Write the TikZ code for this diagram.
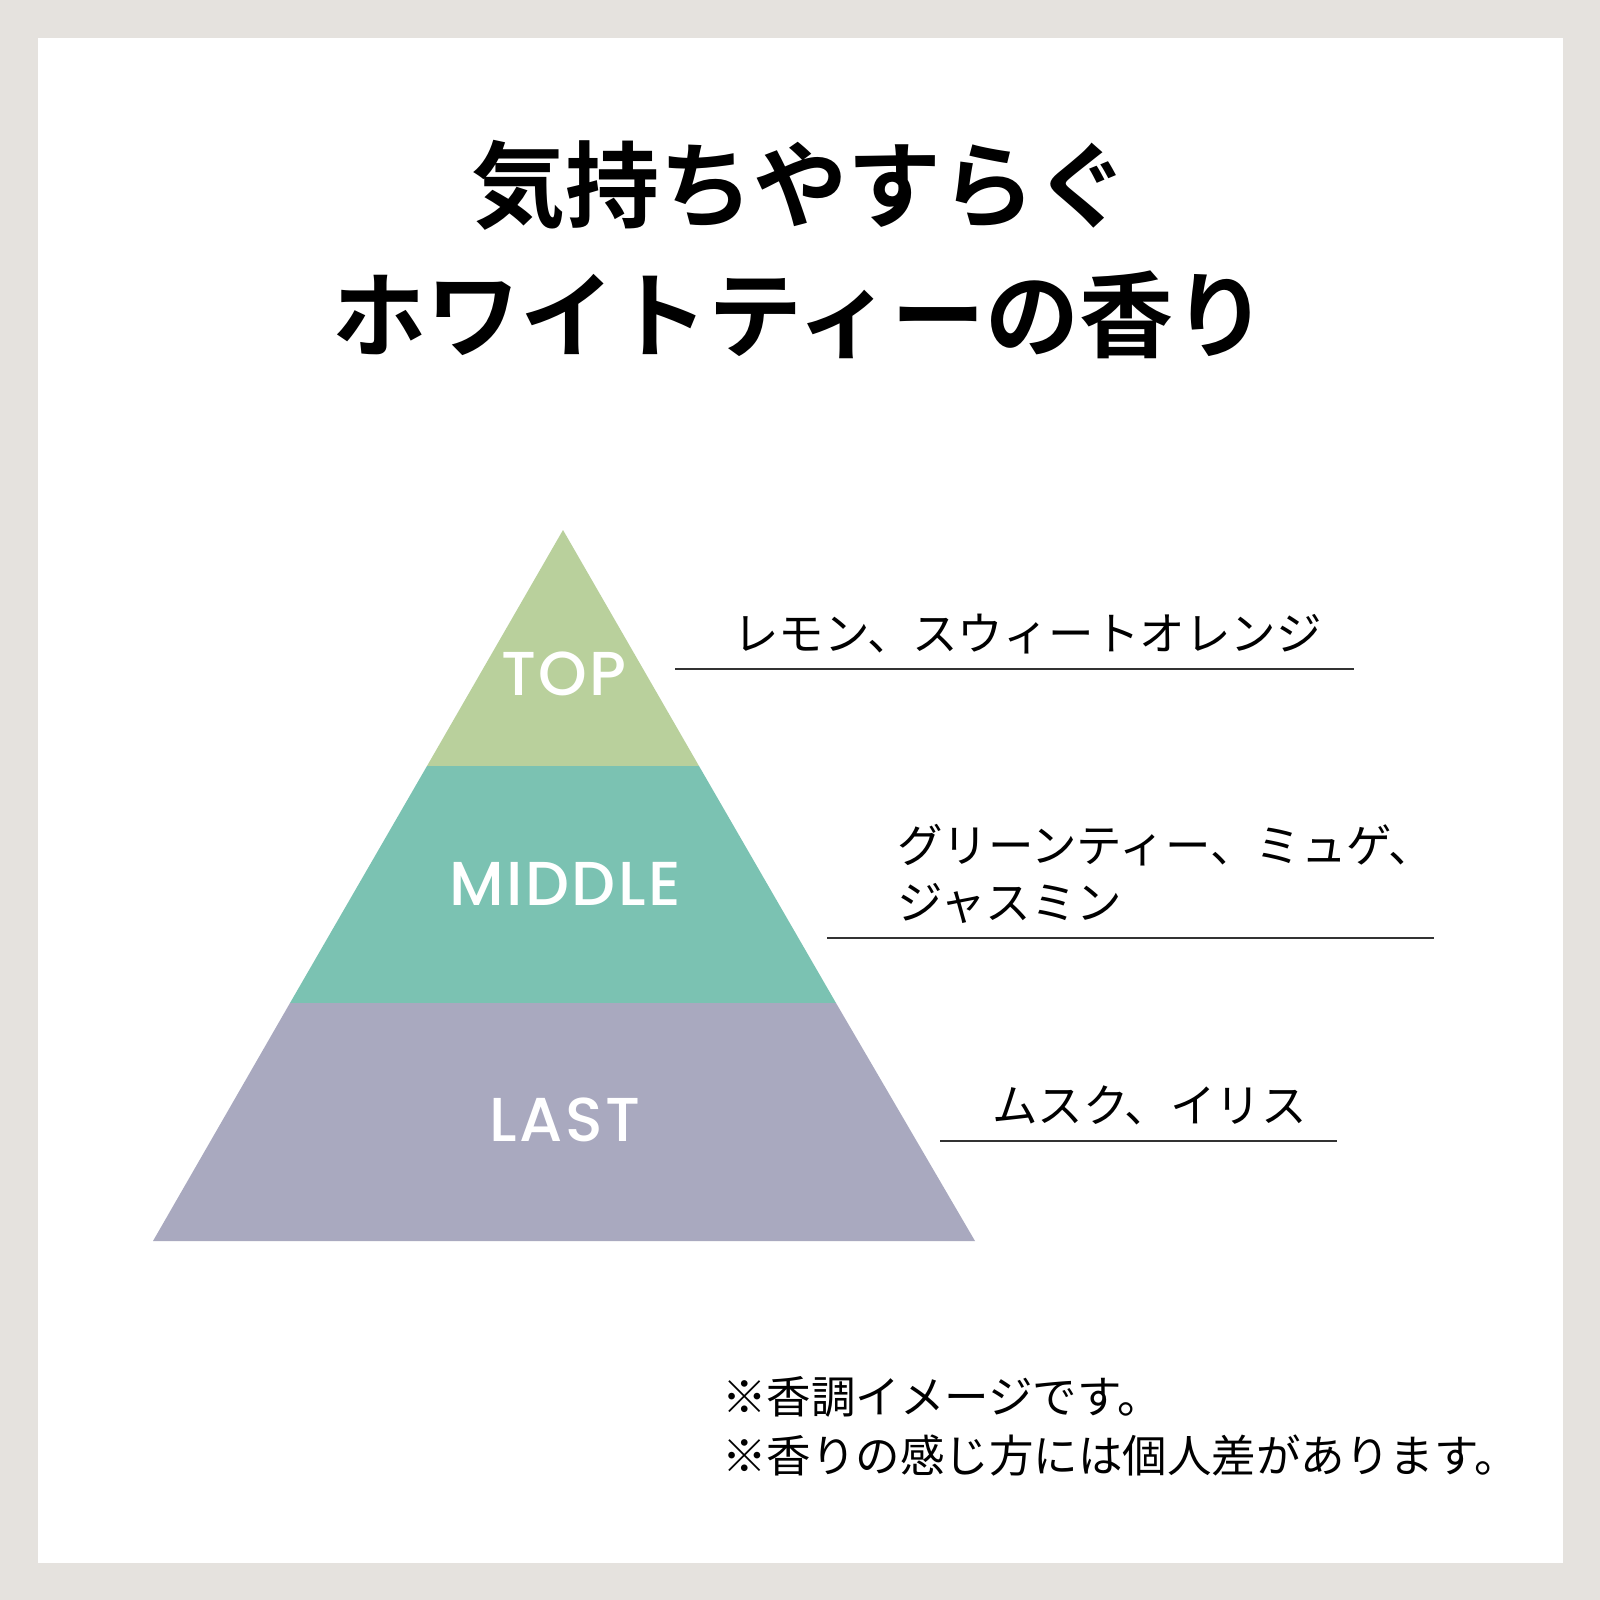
\documentclass[tikz,border=0pt]{standalone}
\usepackage{fontspec}
\newfontfamily\cjk{Noto Sans CJK JP}
\newfontfamily\cjkbold{Noto Sans CJK JP Bold}
\newfontfamily\geo{Poppins Medium}[LetterSpace=4]
\definecolor{framegray}{HTML}{E5E2DE}
\definecolor{topgreen}{HTML}{B9D09C}
\definecolor{midteal}{HTML}{7BC2B2}
\definecolor{lastlav}{HTML}{A9A9BF}
\definecolor{rulegray}{HTML}{333333}
\begin{document}
\begin{tikzpicture}[x=1pt,y=-1pt,
  titletext/.style={inner sep=0pt,anchor=base,font=\cjkbold\fontsize{94}{100}\selectfont},
  tiertext/.style={inner sep=0pt,anchor=base,text=white,font=\geo\fontsize{62}{70}\selectfont},
  notetext/.style={inner sep=0pt,anchor=base west,font=\cjk\fontsize{45.5}{50}\selectfont},
  foottext/.style={inner sep=0pt,anchor=base west,font=\cjk\fontsize{44.5}{48}\selectfont},
  underline/.style={draw=rulegray,line width=1.5pt}]
\useasboundingbox (0,0) rectangle (1600,1600);
\fill[framegray] (0,0) rectangle (1600,1600);
\fill[white] (38,38) rectangle (1563,1563);
% title
\node[titletext] (t1) at (800,220) {気持ちやすらぐ};
\node[titletext] (t2) at (800,350) {ホワイトティーの香り};
% pyramid
\coordinate (apex) at (563,530);
\coordinate (tl) at (427,766);
\coordinate (tr) at (699,766);
\coordinate (ml) at (290,1003);
\coordinate (mr) at (836,1003);
\coordinate (bl) at (153,1241);
\coordinate (br) at (975,1241);
\fill[topgreen] (apex) -- (tr) -- (tl) -- cycle;
\fill[midteal] (tl) -- (tr) -- (mr) -- (ml) -- cycle;
\fill[lastlav] (ml) -- (mr) -- (br) -- (bl) -- cycle;
\node[tiertext] (top) at (564,695) {TOP};
\node[tiertext] (mid) at (565,905) {MIDDLE};
\node[tiertext] (last) at (565,1141) {LAST};
% notes
\node[notetext] (n1) at (733,650) {レモン、スウィートオレンジ};
\coordinate (u1a) at (675,669);
\coordinate (u1b) at (1354,669);
\draw[underline] (u1a) -- (u1b);
\node[notetext] (n2a) at (897,862) {グリーンティー、ミュゲ、};
\node[notetext] (n2b) at (897,919) {ジャスミン};
\coordinate (u2a) at (827,938);
\coordinate (u2b) at (1434,938);
\draw[underline] (u2a) -- (u2b);
\node[notetext] (n3) at (992,1122) {ムスク、イリス};
\coordinate (u3a) at (940,1141);
\coordinate (u3b) at (1337,1141);
\draw[underline] (u3a) -- (u3b);
% footnotes
\node[foottext] (f1) at (722,1413) {※香調イメージです。};
\node[foottext] (f2) at (722,1472) {※香りの感じ方には個人差があります。};
\end{tikzpicture}
\end{document}
